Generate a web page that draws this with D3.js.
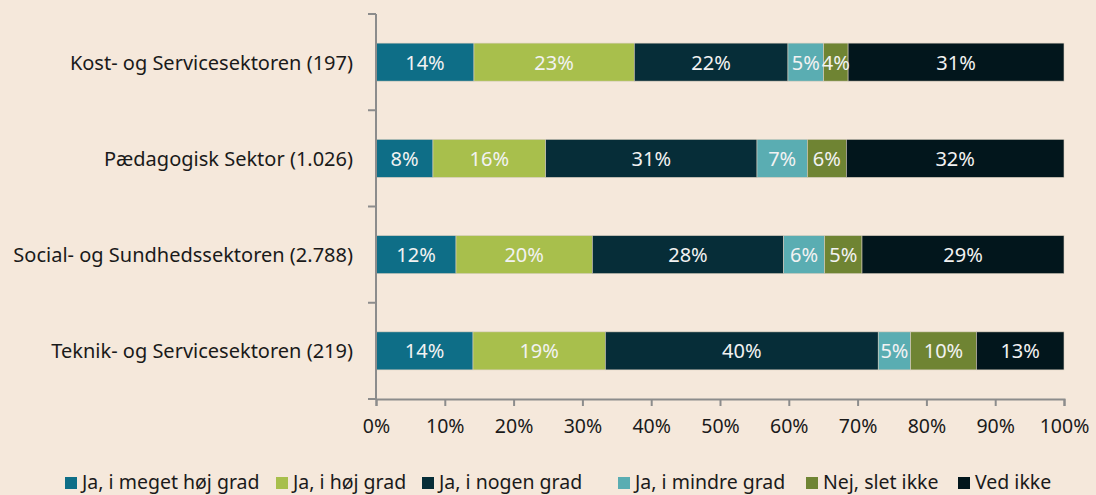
<!DOCTYPE html>
<html>
<head>
<meta charset="utf-8">
<script src="https://cdn.jsdelivr.net/npm/d3@7.9.0/dist/d3.min.js"></script>
<style>
  html, body { margin: 0; padding: 0; background: #F5E8DB; }
  svg { display: block; font-family: "Noto Sans", "Open Sans", sans-serif; }
</style>
</head>
<body>
<div id="chart"></div>
<script>
// Data
const sectors = [
  'Kost- og Servicesektoren (197)',
  'Pædagogisk Sektor (1.026)',
  'Social- og Sundhedssektoren (2.788)',
  'Teknik- og Servicesektoren (219)'
];
const answers = [
  'Ja, i meget høj grad',
  'Ja, i høj grad',
  'Ja, i nogen grad',
  'Ja, i mindre grad',
  'Nej, slet ikke',
  'Ved ikke'
];
const colors = ['#0E6E87', '#A8BF4C', '#062D38', '#5AADB2', '#6F8433', '#02161C'];
// shares per sector, in answer order (percent)
const values = [
  [14.24, 23.30, 22.34, 5.19, 3.55, 31.38],
  [8.28, 16.38, 30.72, 7.32, 5.66, 31.64],
  [11.63, 19.81, 27.81, 5.95, 5.44, 29.36],
  [14.10, 19.23, 39.67, 4.70, 9.56, 12.74]
];
const xTicks = [0, 10, 20, 30, 40, 50, 60, 70, 80, 90, 100];

const width = 1096, height = 495;
const svg = d3.select('#chart').append('svg')
  .attr('width', width)
  .attr('height', height);

const x = d3.scaleLinear().domain([0, 100]).range([376, 1064]);
const y = d3.scaleBand().domain(sectors).range([14, 399])
  .paddingInner(0.605).paddingOuter(0.3025);

const axisColor = '#8C8C8C';

// stacked rows
const rows = sectors.map((s, i) => {
  let acc = 0;
  return values[i].map((v, j) => {
    const seg = { sector: s, key: answers[j], x0: acc, x1: acc + v, v };
    acc += v;
    return seg;
  });
});

const bars = svg.append('g');
rows.forEach((segs) => {
  const g = bars.append('g');
  g.selectAll('rect')
    .data(segs)
    .join('rect')
    .attr('x', d => x(d.x0))
    .attr('y', d => y(d.sector))
    .attr('width', d => x(d.x1) - x(d.x0))
    .attr('height', y.bandwidth())
    .attr('fill', (d, j) => colors[j])
    .attr('stroke', '#D8CDBE')
    .attr('stroke-width', 0.6);
  g.selectAll('text')
    .data(segs)
    .join('text')
    .attr('x', d => (x(d.x0) + x(d.x1)) / 2)
    .attr('y', d => y(d.sector) + y.bandwidth() / 2 + 7.5)
    .attr('text-anchor', 'middle')
    .attr('fill', '#F2F2F2')
    .style('font-size', '20px')
    .text(d => Math.round(d.v) + '%');
});

// y axis
const yAxis = svg.append('g')
  .attr('transform', `translate(${x(0)},0)`);
yAxis.append('line')
  .attr('x1', 0).attr('x2', 0)
  .attr('y1', 14).attr('y2', 399)
  .attr('stroke', axisColor).attr('stroke-width', 2);
const yEdges = sectors.map(s => y(s) - y.step() * y.paddingInner() / 2).concat([399]);
yAxis.selectAll('line.tick')
  .data(yEdges)
  .join('line')
  .attr('class', 'tick')
  .attr('x1', -8).attr('x2', 0)
  .attr('y1', d => d).attr('y2', d => d)
  .attr('stroke', axisColor).attr('stroke-width', 2);
yAxis.selectAll('text')
  .data(sectors)
  .join('text')
  .attr('x', -23)
  .attr('y', d => y(d) + y.bandwidth() / 2 + 7.5)
  .attr('text-anchor', 'end')
  .attr('fill', '#1A1A1A')
  .style('font-size', '20px')
  .text(d => d);

// x axis
const xAxis = svg.append('g')
  .attr('transform', 'translate(0,399)')
  .call(d3.axisBottom(x).tickValues(xTicks).tickFormat(d => d + '%').tickSize(7).tickPadding(13));
xAxis.select('.domain').attr('stroke', axisColor).attr('stroke-width', 2);
xAxis.selectAll('.tick line').attr('stroke', axisColor).attr('stroke-width', 2);
xAxis.selectAll('.tick text')
  .attr('fill', '#1A1A1A')
  .style('font-size', '19.5px')
  .style('font-family', '"Noto Sans", "Open Sans", sans-serif');

// legend
const legendX = [65, 276, 422, 618, 806, 958];
const legend = svg.append('g');
const item = legend.selectAll('g')
  .data(answers)
  .join('g')
  .attr('transform', (d, i) => `translate(${legendX[i]},477)`);
item.append('rect')
  .attr('width', 12).attr('height', 12)
  .attr('fill', (d, i) => colors[i]);
item.append('text')
  .attr('x', 17).attr('y', 12)
  .attr('fill', '#1A1A1A')
  .style('font-size', '19.5px')
  .text(d => d);
</script>
</body>
</html>
